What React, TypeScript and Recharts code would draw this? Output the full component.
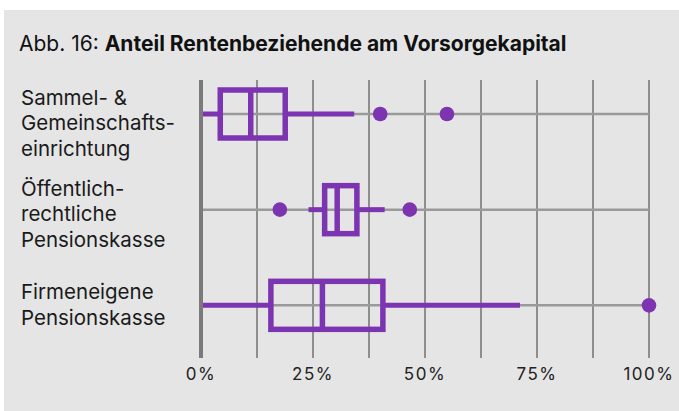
import React from "react";
import { ComposedChart, Bar, XAxis, YAxis, CartesianGrid, ReferenceLine } from "recharts";

// Kategorien (eine Zeile pro Box), Beschriftung zeilenweise
const categories = ["Sammel", "Oeffentlich", "Firmeneigen"];
const labelLines = [
  ["Sammel- &", "Gemeinschafts-", "einrichtung"],
  ["Öffentlich-", "rechtliche", "Pensionskasse"],
  ["Firmeneigene", "Pensionskasse"],
];

// Boxplot-Kennzahlen in %
const whiskerLow = [0, 24, 0];
const q1 = [4.3, 27.6, 15.6];
const median = [11.1, 30.4, 27.1];
const q3 = [18.8, 34.8, 40.6];
const whiskerHigh = [34.2, 41, 71.2];
const outliers = [[40, 54.9], [17.6, 46.6], [100]];

const xTicks = [0, 12.5, 25, 37.5, 50, 62.5, 75, 87.5, 100];
const xLabelTicks = [0, 25, 50, 75, 100];

const PURPLE = "#7d34b1";
const FONT = "Inter, 'Noto Sans', sans-serif";

const rows = categories.map((name, i) => ({
  name,
  range: [whiskerLow[i], whiskerHigh[i]],
  q1: q1[i],
  median: median[i],
  q3: q3[i],
  outliers: outliers[i],
}));

// graue Zeilenlinie über die ganze Plotbreite (Bar-Hintergrund)
function RowLine(props: any) {
  const { x, y, width, height } = props;
  const cy = y + height / 2;
  return <line x1={x} x2={x + width} y1={cy} y2={cy} stroke="#9a9a9a" strokeWidth={2.5} />;
}

function BoxShape(props: any) {
  const { x, y, width, height, payload } = props;
  const [lo, hi] = payload.range;
  const px = (v: number) => x + ((v - lo) / (hi - lo)) * width;
  const cy = y + height / 2;
  return (
    <g>
      <line x1={px(lo)} x2={px(payload.q1)} y1={cy} y2={cy} stroke={PURPLE} strokeWidth={5} />
      <line x1={px(payload.q3)} x2={px(hi)} y1={cy} y2={cy} stroke={PURPLE} strokeWidth={5} />
      <rect
        x={px(payload.q1)}
        y={y}
        width={px(payload.q3) - px(payload.q1)}
        height={height}
        fill="none"
        stroke={PURPLE}
        strokeWidth={5.5}
      />
      <line x1={px(payload.median)} x2={px(payload.median)} y1={y} y2={y + height} stroke={PURPLE} strokeWidth={5.5} />
      {payload.outliers.map((v: number, k: number) => (
        <circle key={k} cx={px(v)} cy={cy} r={7.3} fill={PURPLE} />
      ))}
    </g>
  );
}

// nur die Labels bei 0/25/50/75/100 zeigen
function XTick(props: any) {
  const { x, y, payload } = props;
  if (!xLabelTicks.includes(payload.value)) return null;
  return (
    <text x={x} y={y + 14} textAnchor="middle" fill="#222" fontSize={17} fontFamily={FONT} letterSpacing={1.5}>
      {payload.value}%
    </text>
  );
}

const labelOffset = [-17, -22, -14];

function YTick(props: any) {
  const { y, index } = props;
  const lines = labelLines[index] ?? [];
  return (
    <text x={21} y={y + labelOffset[index]} fill="#1a1a1a" fontSize={20.5} fontFamily={FONT} dominantBaseline="central">
      {lines.map((l, k) => (
        <tspan key={k} x={21} dy={k === 0 ? 0 : 25.5}>
          {l}
        </tspan>
      ))}
    </text>
  );
}

export default function App() {
  return (
    <div style={{ position: "absolute", left: 0, top: 0, width: 679, height: 411, background: "#fff" }}>
      <div style={{ position: "absolute", left: 4, top: 10, width: 675, height: 401, background: "#e5e5e5" }} />
      <div
        style={{
          position: "absolute",
          left: 19,
          top: 31,
          fontFamily: FONT,
          fontSize: 21,
          lineHeight: "26px",
          color: "#111",
          whiteSpace: "nowrap",
        }}
      >
        Abb. 16: <b>Anteil Rentenbeziehende am Vorsorgekapital</b>
      </div>
      <div style={{ position: "absolute", left: 0, top: 0 }}>
        <ComposedChart
          width={679}
          height={411}
          layout="vertical"
          data={rows}
          margin={{ top: 80, right: 30, bottom: 23, left: 0 }}
        >
          <CartesianGrid horizontal={false} stroke="#8e8e8e" strokeWidth={2} />
          <XAxis
            type="number"
            domain={[0, 100]}
            ticks={xTicks}
            axisLine={false}
            tickLine={false}
            tick={<XTick />}
            height={30}
            interval={0}
          />
          <YAxis
            type="category"
            dataKey="name"
            width={201}
            axisLine={false}
            tickLine={false}
            tick={<YTick />}
            padding={{ top: -14, bottom: 5 }}
            interval={0}
          />
          <ReferenceLine x={0} stroke="#7a7a7a" strokeWidth={4} />
          <Bar
            dataKey="range"
            barSize={48}
            background={<RowLine />}
            shape={<BoxShape />}
            isAnimationActive={false}
          />
        </ComposedChart>
      </div>
    </div>
  );
}
